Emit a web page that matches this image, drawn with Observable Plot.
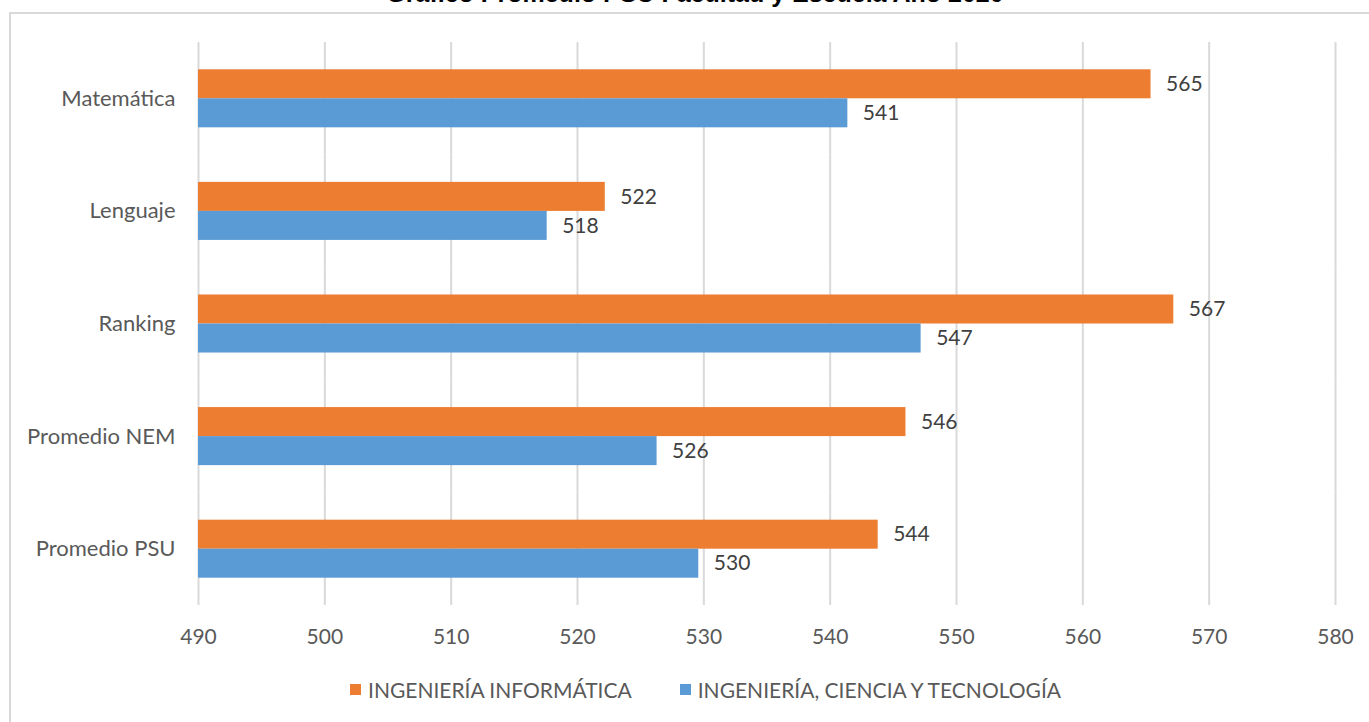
<!DOCTYPE html>
<html>
<head>
<meta charset="utf-8">
<script src="https://cdn.jsdelivr.net/npm/d3@7"></script>
<script src="https://cdn.jsdelivr.net/npm/@observablehq/plot@0.6"></script>
<style>
  html, body { margin: 0; padding: 0; background: #fff; width: 1369px; height: 722px; overflow: hidden; position: relative; }
  #frame { position: absolute; left: 9px; top: 12px; width: 1400px; height: 800px; border: 2px solid #d9d9d9; box-sizing: border-box; }
  #title { position: absolute; left: 0; width: 1390px; top: -21px; text-align: center; font-family: "Liberation Sans", Arial, sans-serif; font-weight: bold; font-size: 25px; color: #000; }
  #chart { position: absolute; left: 0; top: 0; }
  #legend { position: absolute; top: 677px; left: 0; width: 1369px; display: flex; justify-content: flex-start; gap: 48px; font-family: Lato, sans-serif; font-size: 21px; color: #595959; padding-left: 350px; box-sizing: border-box; }
  #legend .item { display: flex; align-items: center; gap: 7px; }
  #legend .sw { width: 11px; height: 11px; display: inline-block; }
  #chart svg g[aria-label="fy-axis tick label"] text { font-size: 22px; }
</style>
</head>
<body>
<div id="frame"></div>
<div id="title">Gráfico Promedio PSU Facultad y Escuela Año 2020</div>
<div id="chart"></div>
<div id="legend"></div>
<script>
const categories = ["Matemática", "Lenguaje", "Ranking", "Promedio NEM", "Promedio PSU"];
const seriesNames = ["INGENIERÍA INFORMÁTICA", "INGENIERÍA, CIENCIA Y TECNOLOGÍA"];
const seriesColors = ["#ED7D31", "#5B9BD5"];
const informatica = [565.4, 522.2, 567.2, 546.0, 543.8];
const cienciaTecnologia = [541.4, 517.6, 547.2, 526.3, 529.6];
const xTicks = [490, 500, 510, 520, 530, 540, 550, 560, 570, 580];

const rows = categories.flatMap((c, i) => [
  {cat: c, serie: seriesNames[0], value: informatica[i]},
  {cat: c, serie: seriesNames[1], value: cienciaTecnologia[i]}
]);

const chart = Plot.plot({
  width: 1369,
  height: 660,
  marginLeft: 198,
  marginRight: 34,
  marginTop: 42,
  marginBottom: 55,
  style: {fontFamily: "Lato, sans-serif", fontSize: "21px", color: "#595959", background: "transparent", overflow: "visible"},
  x: {domain: [xTicks[0], xTicks[xTicks.length - 1]], ticks: xTicks, tickSize: 0, tickPadding: 24, label: null},
  fy: {domain: categories, padding: 0, round: false, tickSize: 0, tickPadding: 23, label: null},
  y: {domain: seriesNames, paddingInner: 0, paddingOuter: 0.94, round: false, axis: null},
  color: {domain: seriesNames, range: seriesColors},
  marks: [
    Plot.ruleX(xTicks, {stroke: "#d9d9d9", strokeWidth: 2}),
    Plot.barX(rows, {fy: "cat", y: "serie", x1: () => xTicks[0], x2: "value", fill: "serie"}),
    Plot.text(rows, {fy: "cat", y: "serie", x: "value", text: d => String(Math.round(d.value)), dx: 15, textAnchor: "start", fill: "#404040", fontSize: 21})
  ]
});
document.getElementById("chart").appendChild(chart);

const legend = document.getElementById("legend");
seriesNames.forEach((name, i) => {
  const item = document.createElement("div");
  item.className = "item";
  const sw = document.createElement("span");
  sw.className = "sw";
  sw.style.background = seriesColors[i];
  const label = document.createElement("span");
  label.textContent = name;
  item.appendChild(sw);
  item.appendChild(label);
  legend.appendChild(item);
});
</script>
</body>
</html>
